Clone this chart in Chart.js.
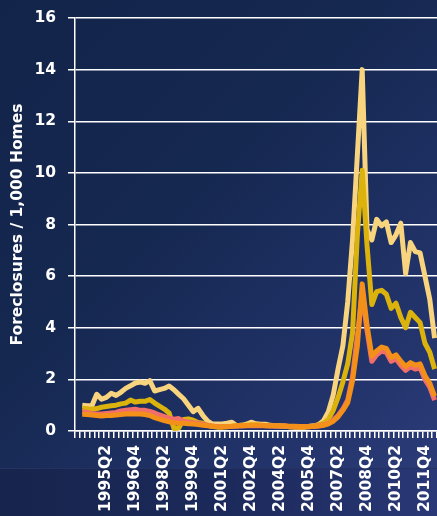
<!DOCTYPE html>
<html>
<head>
<meta charset="utf-8">
<script src="https://cdn.jsdelivr.net/npm/chart.js@4.4.1/dist/chart.umd.min.js"></script>
<style>
  html, body { margin: 0; padding: 0; width: 437px; height: 516px; overflow: hidden; }
  body {
    position: relative;
    background: linear-gradient(135deg, #13244a 0%, #152850 40%, #22336a 75%, #2c3d7b 100%);
  }
  #band {
    position: absolute; left: 0; top: 468px; width: 437px; height: 48px;
    background: linear-gradient(90deg, #17244c 0%, #1c2a5c 55%, #2a3877 100%);
    border-top: 1px solid #25325f;
  }
  canvas { position: absolute; left: 0; top: 0; }
</style>
</head>
<body>
<div id="band"></div>
<canvas id="c" width="437" height="516"></canvas>
<script>
// Quarterly categories, 1993Q4 .. 2012Q2
const quarters = [
  '1993Q4',
  '1994Q1','1994Q2','1994Q3','1994Q4',
  '1995Q1','1995Q2','1995Q3','1995Q4',
  '1996Q1','1996Q2','1996Q3','1996Q4',
  '1997Q1','1997Q2','1997Q3','1997Q4',
  '1998Q1','1998Q2','1998Q3','1998Q4',
  '1999Q1','1999Q2','1999Q3','1999Q4',
  '2000Q1','2000Q2','2000Q3','2000Q4',
  '2001Q1','2001Q2','2001Q3','2001Q4',
  '2002Q1','2002Q2','2002Q3','2002Q4',
  '2003Q1','2003Q2','2003Q3','2003Q4',
  '2004Q1','2004Q2','2004Q3','2004Q4',
  '2005Q1','2005Q2','2005Q3','2005Q4',
  '2006Q1','2006Q2','2006Q3','2006Q4',
  '2007Q1','2007Q2','2007Q3','2007Q4',
  '2008Q1','2008Q2','2008Q3','2008Q4',
  '2009Q1','2009Q2','2009Q3','2009Q4',
  '2010Q1','2010Q2','2010Q3','2010Q4',
  '2011Q1','2011Q2','2011Q3','2011Q4',
  '2012Q1','2012Q2'
];

// Foreclosures per 1,000 homes
const seriesPale = [
  null,
  1.0, 0.98, 0.98, 1.42, 1.23,
  1.3, 1.46, 1.38, 1.5, 1.65,
  1.75, 1.86, 1.9, 1.85, 1.95,
  1.55, 1.6, 1.65, 1.74, 1.6,
  1.42, 1.25, 1.0, 0.75, 0.88,
  0.6, 0.38, 0.27, 0.27, 0.27,
  0.3, 0.34, 0.2, 0.22, 0.26,
  0.34, 0.28, 0.26, 0.26, 0.22,
  0.2, 0.2, 0.18, 0.16, 0.15,
  0.15, 0.15, 0.18, 0.2, 0.25,
  0.4, 0.75, 1.4, 2.4, 3.3,
  5.0, 7.4, 10.7, 14.0, 7.8,
  7.4, 8.2, 7.95, 8.1, 7.3,
  7.6, 8.05, 6.1, 7.3, 6.95,
  6.9, 6.0, 5.1, 3.6
];

const seriesGold = [
  null,
  0.88, 0.86, 0.84, 0.87, 0.92,
  0.95, 0.98, 1.0, 1.05, 1.08,
  1.2, 1.12, 1.15, 1.15, 1.22,
  1.08, 0.96, 0.85, 0.7, 0.1,
  0.12, 0.45, 0.47, 0.42, 0.33,
  0.3, 0.22, 0.17, 0.15, 0.15,
  0.16, 0.18, 0.2, 0.22, 0.22,
  0.24, 0.24, 0.22, 0.2, 0.2,
  0.2, 0.18, 0.18, 0.16, 0.15,
  0.15, 0.15, 0.16, 0.2, 0.25,
  0.3, 0.45, 0.8, 1.3, 1.9,
  2.6, 3.8, 7.6, 10.1, 7.2,
  4.9, 5.4, 5.45, 5.3, 4.75,
  4.95, 4.4, 4.0, 4.6, 4.4,
  4.2, 3.4, 3.05, 2.4
];

const seriesPink = [
  null,
  0.75, 0.72, 0.68, 0.66, 0.66,
  0.68, 0.7, 0.72, 0.78, 0.8,
  0.82, 0.84, 0.8, 0.8, 0.76,
  0.7, 0.62, 0.56, 0.5, 0.46,
  0.48, 0.38, 0.35, 0.32, 0.3,
  0.26, 0.22, 0.19, 0.17, 0.16,
  0.17, 0.17, 0.19, 0.19, 0.2,
  0.21, 0.2, 0.2, 0.2, 0.19,
  0.19, 0.18, 0.2, 0.17, 0.16,
  0.16, 0.16, 0.16, 0.18, 0.2,
  0.24, 0.3, 0.42, 0.6, 0.85,
  1.2, 2.1, 3.7, 5.3, 3.9,
  2.7, 2.95, 3.1, 3.05, 2.7,
  2.8, 2.55, 2.35, 2.5, 2.4,
  2.45, 2.0, 1.7, 1.2
];

const seriesOrange = [
  null,
  0.65, 0.64, 0.62, 0.6, 0.58,
  0.6, 0.6, 0.62, 0.64, 0.66,
  0.67, 0.66, 0.66, 0.64, 0.6,
  0.52, 0.46, 0.4, 0.36, 0.32,
  0.3, 0.3, 0.28, 0.27, 0.25,
  0.22, 0.2, 0.18, 0.16, 0.16,
  0.17, 0.18, 0.2, 0.2, 0.21,
  0.22, 0.22, 0.22, 0.21, 0.2,
  0.2, 0.2, 0.19, 0.18, 0.18,
  0.17, 0.17, 0.17, 0.17, 0.19,
  0.22, 0.28, 0.38, 0.55, 0.8,
  1.1, 1.95, 3.3, 5.7, 4.1,
  2.9, 3.1, 3.25, 3.2, 2.85,
  2.95, 2.7, 2.5, 2.65, 2.55,
  2.6, 2.15, 1.85, 1.35
];

const yTicks = [0, 2, 4, 6, 8, 10, 12, 14, 16];
const labelEvery = 6;

const FONT = { family: '"DejaVu Sans", Verdana, sans-serif', size: 15.5, weight: 'bold' };

function line(label, data, color, order, width) {
  return {
    label, data, order,
    borderColor: color,
    backgroundColor: color,
    borderWidth: width,
    pointRadius: 0,
    tension: 0,
    borderJoinStyle: 'round',
    spanGaps: false,
    fill: false
  };
}

new Chart(document.getElementById('c'), {
  type: 'line',
  data: {
    labels: quarters,
    datasets: [
      line('Series 1', seriesPale, '#f8d47e', 3, 5),
      line('Series 2', seriesGold, '#dcb30c', 2, 5),
      line('Series 3', seriesPink, '#f16e6a', 1, 5),
      line('Series 4', seriesOrange, '#f2901a', 0, 5)
    ]
  },
  options: {
    responsive: false,
    devicePixelRatio: 1,
    animation: false,
    events: [],
    layout: { padding: { top: 18, right: 0, bottom: 0, left: 0 } },
    plugins: { legend: { display: false }, tooltip: { enabled: false } },
    scales: {
      x: {
        type: 'category',
        offset: true,
        grid: {
          offset: true,
          drawOnChartArea: false,
          drawTicks: true,
          tickLength: 7,
          color: '#ffffff',
          lineWidth: 1.5
        },
        border: { display: true, color: '#ffffff', width: 1.5 },
        ticks: {
          autoSkip: false,
          maxRotation: 90,
          minRotation: 90,
          padding: 7,
          color: '#ffffff',
          font: FONT,
          callback: function (value, index) {
            return (index > 0 && index % labelEvery === 0) ? quarters[index] : '';
          }
        },
        afterFit: function (scale) {
          scale.height = 85;
          scale.paddingLeft = 0;
          scale.paddingRight = 0;
        }
      },
      y: {
        min: 0,
        max: 16,
        afterBuildTicks: function (scale) {
          scale.ticks = yTicks.map(v => ({ value: v }));
        },
        grid: {
          color: '#ffffff',
          lineWidth: 1.5,
          drawTicks: true,
          tickLength: 7
        },
        border: { display: true, color: '#ffffff', width: 1.5 },
        ticks: {
          padding: 12,
          color: '#ffffff',
          font: FONT
        },
        title: {
          display: true,
          text: 'Foreclosures / 1,000 Homes',
          color: '#ffffff',
          font: FONT,
          padding: { top: 9, bottom: 0 }
        },
        afterFit: function (scale) {
          scale.width = 75;
          scale.paddingTop = 0;
          scale.paddingBottom = 0;
        }
      }
    }
  }
});
</script>
</body>
</html>
